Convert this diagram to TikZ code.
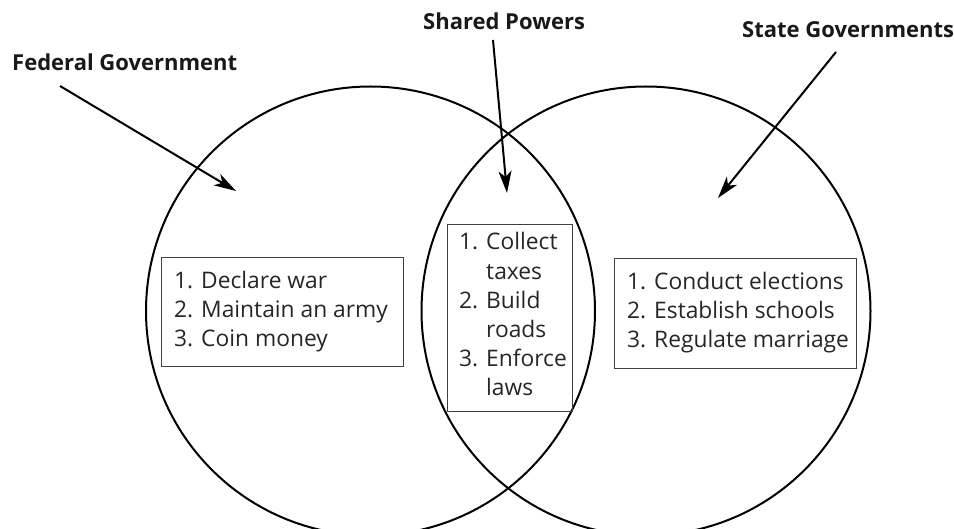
\documentclass[tikz,border=0pt]{standalone}
\usepackage{fontspec}
\setmainfont{Open Sans}
\usetikzlibrary{arrows.meta}
\begin{document}
\begin{tikzpicture}[x=1pt,y=-1pt,
  venn/.style={circle,draw,line width=2pt,minimum size=449pt,inner sep=0pt},
  listbox/.style={draw=black!75,line width=0.9pt,inner sep=0pt,anchor=north west},
  listtext/.style={anchor=base west,align=left,inner sep=0pt,text=black!85,font=\fontsize{22.8}{29.2}\selectfont},
  title/.style={anchor=base west,inner sep=0pt,text=black!90,font=\bfseries\fontsize{22}{26}\selectfont},
  arr/.style={line width=2pt,-{Stealth[length=22pt,width=13pt,inset=6pt]}}]
\useasboundingbox (0,0) rectangle (954,529);
\clip (0,0) rectangle (954,529);
\node[venn] (fed) at (370.5,311) {};
\node[venn] (state) at (646,311) {};
\node[listbox,minimum width=242pt,minimum height=109pt] (fbox) at (161,257) {};
\node[listbox,minimum width=125pt,minimum height=187pt] (sbox) at (447,224) {};
\node[listbox,minimum width=242pt,minimum height=110pt] (tbox) at (614,258) {};
\node[listtext] (ftext) at (174,347) {1. Declare war\\2. Maintain an army\\3. Coin money};
\node[listtext] (stext) at (459,396) {1. Collect\\\hphantom{1. }taxes\\2. Build\\\hphantom{2. }roads\\3. Enforce\\\hphantom{3. }laws};
\node[listtext] (ttext) at (627,348) {1. Conduct elections\\2. Establish schools\\3. Regulate marriage};
\node[title] (flabel) at (12,71) {Federal Government};
\node[title] (slabel) at (423,30) {Shared Powers};
\node[title] (tlabel) at (742,38) {State Governments};
\coordinate (fa) at (60,86);
\coordinate (ft) at (236,191);
\coordinate (sa) at (493,40);
\coordinate (st) at (507,193);
\coordinate (ta) at (836,52);
\coordinate (tt) at (718,198);
\draw[arr] (fa) -- (ft);
\draw[arr] (sa) -- (st);
\draw[arr] (ta) -- (tt);
\end{tikzpicture}
\end{document}
